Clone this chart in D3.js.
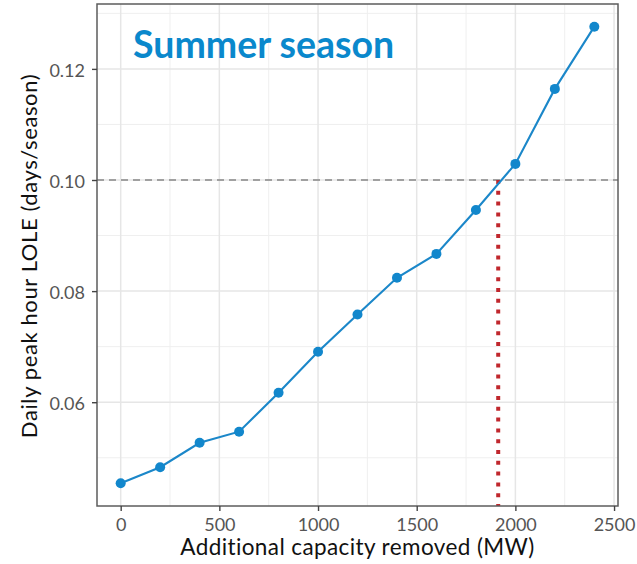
<!DOCTYPE html>
<html><head><meta charset="utf-8">
<script src="https://cdn.jsdelivr.net/npm/d3@7"></script>
<style>body{margin:0;background:#fff}svg{display:block}text{font-family:Lato,"Open Sans",sans-serif}</style>
</head><body>
<script>
const capacity = [0,200,400,600,800,1000,1200,1400,1600,1800,2000,2200,2400];
const lole = [0.0454,0.0483,0.0527,0.0547,0.0617,0.0691,0.0758,0.0824,0.0867,0.0946,0.1029,0.1164,0.1276];
const xTicks = [0,500,1000,1500,2000,2500];
const yTicks = [0.06,0.08,0.10,0.12];
const xMinor = [250,750,1250,1750,2250];
const yMinor = [0.05,0.07,0.09,0.11,0.13];
const threshold = 0.10;
const crossing = 1913;
const title = "Summer season";
const xLabel = "Additional capacity removed (MW)";
const yLabel = "Daily peak hour LOLE (days/season)";

const W=637,H=564;
const L=97,R=618,T=4,B=506;
const svg=d3.select("body").append("svg").attr("width",W).attr("height",H);
const x=d3.scaleLinear().domain([-120,2520]).range([L,R]);
const y=d3.scaleLinear().domain([0.04132,0.13168]).range([B,T]);

const g=svg.append("g");
g.selectAll(".gmx").data(xMinor).join("line").attr("x1",d=>x(d)).attr("x2",d=>x(d)).attr("y1",T).attr("y2",B).attr("stroke","#efefef").attr("stroke-width",1);
g.selectAll(".gmy").data(yMinor).join("line").attr("y1",d=>y(d)).attr("y2",d=>y(d)).attr("x1",L).attr("x2",R).attr("stroke","#efefef").attr("stroke-width",1);
g.selectAll(".gx").data(xTicks).join("line").attr("x1",d=>x(d)).attr("x2",d=>x(d)).attr("y1",T).attr("y2",B).attr("stroke","#e6e6e6").attr("stroke-width",1.5);
g.selectAll(".gy").data(yTicks).join("line").attr("y1",d=>y(d)).attr("y2",d=>y(d)).attr("x1",L).attr("x2",R).attr("stroke","#e6e6e6").attr("stroke-width",1.5);

// threshold line
svg.append("line").attr("x1",L).attr("x2",R).attr("y1",y(threshold)).attr("y2",y(threshold))
  .attr("stroke","#a0a0a0").attr("stroke-width",1.8).attr("stroke-dasharray","7,5");
// vertical red dotted
svg.append("line").attr("x1",x(crossing)).attr("x2",x(crossing)).attr("y1",y(threshold)).attr("y2",B)
  .attr("stroke","#c0272d").attr("stroke-width",4).attr("stroke-dasharray","4,6.8");

const line=d3.line().x((d,i)=>x(capacity[i])).y(d=>y(d));
svg.append("path").attr("d",line(lole)).attr("fill","none").attr("stroke","#1b87c9").attr("stroke-width",2.1);
svg.selectAll(".pt").data(lole).join("circle").attr("cx",(d,i)=>x(capacity[i])).attr("cy",d=>y(d)).attr("r",5).attr("fill","#1287cc");

// panel border
svg.append("rect").attr("x",L).attr("y",T).attr("width",R-L).attr("height",B-T).attr("fill","none").attr("stroke","#5c5c5c").attr("stroke-width",1.5);

// axes
const xa=svg.append("g").attr("transform",`translate(0,${B})`).call(d3.axisBottom(x).tickValues(xTicks).tickFormat(d3.format("d")).tickSize(5).tickPadding(7));
const ya=svg.append("g").attr("transform",`translate(${L},0)`).call(d3.axisLeft(y).tickValues(yTicks).tickFormat(d3.format(".2f")).tickSize(5).tickPadding(7));
[xa,ya].forEach(a=>{a.select(".domain").remove();a.selectAll("line").attr("stroke","#444").attr("stroke-width",1.4);
 a.selectAll("text").attr("fill","#555").style("font-size","18px").style("font-family","Lato, sans-serif");});
ya.selectAll("text").attr("dy","0.42em");

svg.append("text").attr("x",(L+R)/2).attr("y",555).attr("text-anchor","middle").attr("fill","#111").style("font-size","22.5px").style("letter-spacing","0.4px").text(xLabel);
svg.append("text").attr("transform",`translate(36.5,256) rotate(-90)`).attr("text-anchor","middle").attr("fill","#111").style("font-size","22px").style("letter-spacing","0.6px").text(yLabel);
svg.append("text").attr("x",133).attr("y",58).attr("fill","#0a88cc").style("font-size","37.5px").style("font-weight","bold").text(title);
</script>
</body></html>
